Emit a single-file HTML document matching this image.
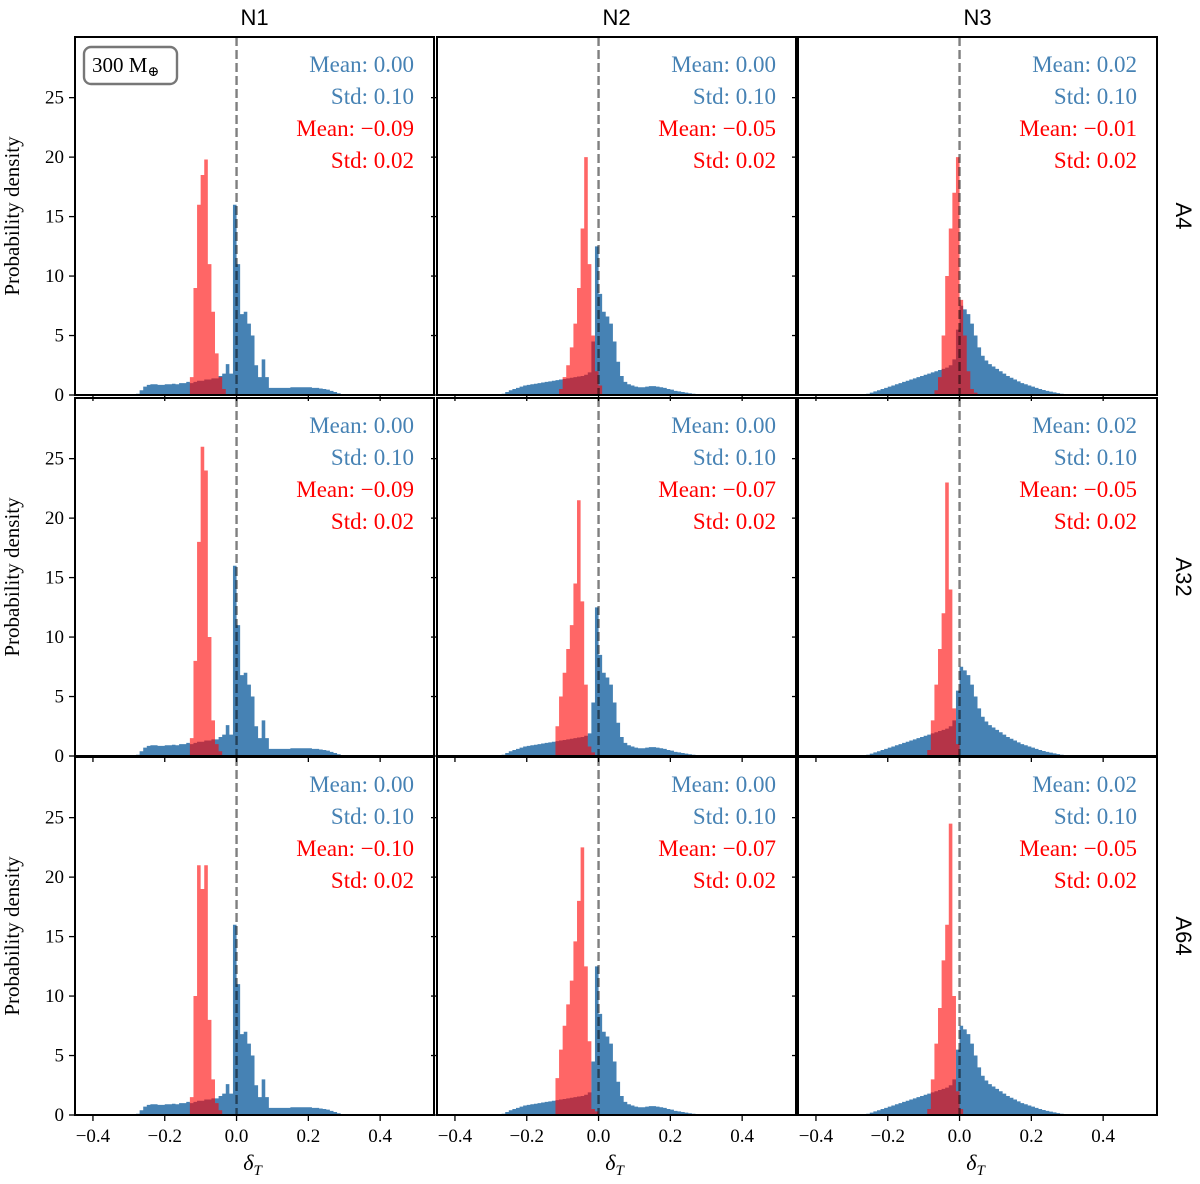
<!DOCTYPE html>
<html><head><meta charset="utf-8"><style>
html,body{margin:0;padding:0;background:#fff;}
svg{display:block;}
text{font-family:"Liberation Serif","DejaVu Serif",serif;}
.sans{font-family:"Liberation Sans","DejaVu Sans",sans-serif;}
</style></head><body>
<svg id="chart" width="1200" height="1184" viewBox="0 0 1200 1184" xmlns="http://www.w3.org/2000/svg"></svg>
<script>
// ---- data ----
const colNames = ["N1","N2","N3"];
const rowNames = ["A4","A32","A64"];
const xTicks = [-0.4,-0.2,0.0,0.2,0.4];
const xTickLabels = ["\u22120.4","\u22120.2","0.0","0.2","0.4"];
const yTicks = [0,5,10,15,20,25];
const blueStart = -0.30;
const redStart = -0.14;
const binW = 0.01;
const blueN1 = [0,0,0.1,0.4,0.7,0.85,0.9,0.9,0.85,0.85,
 0.9,0.9,0.95,0.9,1.0,1.0,1.1,1.0,1.1,1.2,
 1.2,1.3,1.3,1.4,1.4,1.6,1.8,2.6,1.8,16,
 11,6.8,7,6,5,2.5,1.5,3,1.5,0.6,
 0.6,0.6,0.6,0.6,0.6,0.65,0.65,0.65,0.65,0.65,
 0.65,0.6,0.6,0.55,0.5,0.45,0.35,0.25,0.15,0.08,0.03,0];
const blueN2 = [0,0,0,0.1,0.25,0.4,0.5,0.6,0.7,0.8,
 0.85,0.9,0.95,1.0,1.05,1.1,1.15,1.2,1.25,1.3,
 1.35,1.4,1.45,1.5,1.55,1.6,1.7,1.9,4.5,12.5,
 8.5,7.0,6.6,6.0,4.5,2.8,1.6,1.1,0.9,0.8,
 0.7,0.65,0.65,0.7,0.75,0.75,0.7,0.65,0.6,0.5,
 0.45,0.35,0.3,0.25,0.2,0.15,0.1,0.05,0.02,0,0,0];
const blueN3 = [0,0,0,0,0.1,0.2,0.3,0.4,0.5,0.6,
 0.7,0.8,0.9,1.0,1.1,1.2,1.3,1.4,1.5,1.6,
 1.7,1.8,1.9,2.0,2.1,2.2,2.3,2.5,3.0,5.5,
 7.5,7.2,6.8,6.0,5.0,4.0,3.3,2.9,2.6,2.4,
 2.2,2.0,1.8,1.6,1.45,1.3,1.15,1.0,0.9,0.8,
 0.7,0.6,0.5,0.42,0.35,0.28,0.22,0.16,0.11,0.07,0.04,0.02];
// red bins from -0.14 to 0.05
const redN1A4  = [0,1.5,9,16,18.5,19.8,11,7,3.5,1.5,0.5,0,0,0,0,0,0,0,0];
const redN1A32 = [0,1.5,8,18,26,24,10,3,1,0.4,0,0,0,0,0,0,0,0,0];
const redN1A64 = [0,1.5,10,21,19,21,8,3,1,0.4,0,0,0,0,0,0,0,0,0];
const redN2A4  = [0,0,0,0.5,1.5,2.5,4,6,9,14,20,11,5,2,0.8,0,0,0,0];
const redN2A32 = [0,0,2.5,5,7,9,11,14.5,21.5,13,6,0.8,0.3,0,0,0,0,0,0];
const redN2A64 = [0,0,3.1,5.5,7.5,9.3,11.3,14.6,18,22.5,12.5,6.2,0.5,0.3,0,0,0,0,0];
const redN3A4  = [0,0,0,0,0,0,0,0.4,1.5,5,10,14,17,20,8,5,2,0.5,0.2];
const redN3A32 = [0,0,0,0,0,0.5,3,6,9,12,23,14,4,1,0,0,0,0,0];
const redN3A64 = [0,0,0,0,0,0.5,3,6,9,13,16,24.5,10,2,0.5,0,0,0,0];
const blueCols = [blueN1,blueN2,blueN3];
const redGrid = [[redN1A4,redN2A4,redN3A4],[redN1A32,redN2A32,redN3A32],[redN1A64,redN2A64,redN3A64]];
const blueMean = [["0.00","0.00","0.02"],["0.00","0.00","0.02"],["0.00","0.00","0.02"]];
const blueStd  = [["0.10","0.10","0.10"],["0.10","0.10","0.10"],["0.10","0.10","0.10"]];
const redMean  = [["\u22120.09","\u22120.05","\u22120.01"],["\u22120.09","\u22120.07","\u22120.05"],["\u22120.10","\u22120.07","\u22120.05"]];
const redStd   = [["0.02","0.02","0.02"],["0.02","0.02","0.02"],["0.02","0.02","0.02"]];

// ---- layout ----
const NS="http://www.w3.org/2000/svg";
const svg=document.getElementById('chart');
const colX=[75,437,798], rowY=[37,398,757], PW=359, PH=358;
const xMin=-0.45,xMax=0.55,yMax=30.1;
function mk(tag,attrs,parent){const e=document.createElementNS(NS,tag);for(const k in attrs)e.setAttribute(k,attrs[k]);(parent||svg).appendChild(e);return e;}

function histPath(vals,start,sx,sy,base){
  let d="";
  vals.forEach((v,i)=>{ if(v<=0) return;
    const x0=sx(start+i*binW), x1=sx(start+(i+1)*binW), y=sy(v);
    d+=`M${x0.toFixed(2)},${base}L${x0.toFixed(2)},${y.toFixed(2)}L${x1.toFixed(2)},${y.toFixed(2)}L${x1.toFixed(2)},${base}Z`;
  });
  return d;
}

for(let r=0;r<3;r++)for(let c=0;c<3;c++){
  const X0=colX[c],Y0=rowY[r];
  const sx=v=>X0+(v-xMin)/(xMax-xMin)*PW;
  const sy=v=>Y0+PH-v/yMax*PH;
  const base=Y0+PH;
  const g=mk('g',{});
  
  
  const cp=mk('clipPath',{id:`cp${r}${c}`},g);
  mk('rect',{x:X0,y:Y0,width:PW,height:PH},cp);
  const b=mk('path',{d:histPath(blueCols[c],blueStart,sx,sy,base),fill:'#4682b4','clip-path':`url(#cp${r}${c})`},g);
  
  
  const rd=mk('path',{d:histPath(redGrid[r][c],redStart,sx,sy,base),fill:'#ff0000','fill-opacity':0.6,'clip-path':`url(#cp${r}${c})`},g);
  
  
  const zl=mk('line',{x1:sx(0),x2:sx(0),y1:Y0,y2:base,stroke:'#000','stroke-opacity':0.5,'stroke-width':2.4,'stroke-dasharray':'9,4'},g);
  
  
  const fr=mk('rect',{x:X0,y:Y0,width:PW,height:PH,fill:'none',stroke:'#000','stroke-width':2},g);
  
  
  yTicks.forEach(t=>{
    const y=sy(t);
    mk('line',{x1:X0-6,x2:X0,y1:y,y2:y,stroke:'#000','stroke-width':1.3},g);
    if(c===0){const tt=mk('text',{x:X0-11,y:y+6,'text-anchor':'end','font-size':19},g);tt.textContent=t;
      }
  });
  xTicks.forEach((t,i)=>{
    const x=sx(t);
    mk('line',{x1:x,x2:x,y1:base,y2:base+6,stroke:'#000','stroke-width':1.3},g);
    if(r===2){const tt=mk('text',{x:x,y:base+27,'text-anchor':'middle','font-size':19},g);tt.textContent=xTickLabels[i];
      }
  });
  const lines=[["Mean:   "+blueMean[r][c],'#4682b4','blue-mean'],["Std:   "+blueStd[r][c],'#4682b4','blue-std'],["Mean:   "+redMean[r][c],'#ff0000','red-mean'],["Std:   "+redStd[r][c],'#ff0000','red-std']];
  lines.forEach((L,i)=>{
    const t=mk('text',{x:X0+339,y:Y0+35+i*32,'text-anchor':'end','font-size':23,fill:L[1],'xml:space':'preserve'},g);
    t.textContent=L[0];
    
    
  });
  if(c===0){
    const yl=mk('text',{x:0,y:0,'text-anchor':'middle','font-size':21,transform:`translate(19,${Y0+PH/2}) rotate(-90)`},g);
    yl.textContent="Probability density";
    
    
  }
  if(r===2){
    const xl=mk('text',{x:X0+PW/2-2,y:1170,'text-anchor':'middle','font-size':22,'font-style':'italic'},g);
    xl.innerHTML='δ<tspan font-size="15" dy="5">T</tspan>';
    
    
  }
  if(r===0){
    const ct=mk('text',{x:X0+PW/2,y:25,'text-anchor':'middle','font-size':22,class:'sans'},g);
    ct.textContent=colNames[c];
    
    
  }
  if(c===2){
    const rt=mk('text',{x:0,y:0,'text-anchor':'middle','font-size':22,class:'sans',transform:`translate(1176,${Y0+PH/2}) rotate(90)`},g);
    rt.textContent=rowNames[r];
    
    
  }
}
const lg=mk('g',{});


mk('rect',{x:84,y:47,width:93,height:37,rx:7,ry:7,fill:'#fff',stroke:'#777','stroke-width':2.4},lg);
const lt=mk('text',{x:92,y:72,'font-size':21},lg);
lt.innerHTML='300 M<tspan font-size="14" dy="4">⊕</tspan>';
</script>
</body></html>
